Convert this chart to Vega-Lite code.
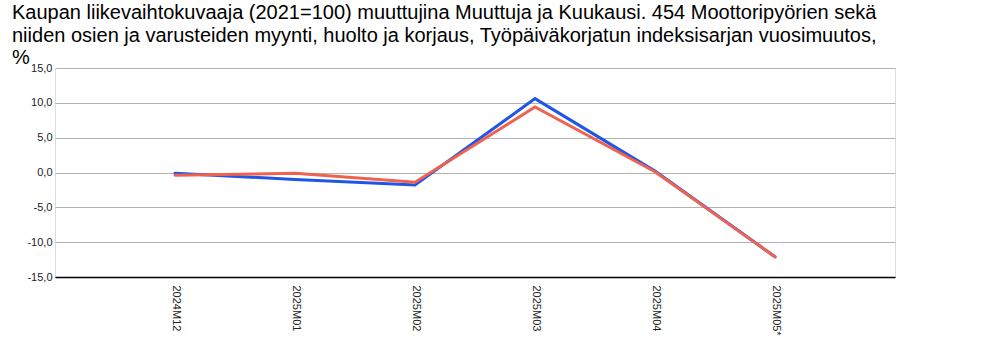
{
  "$schema": "https://vega.github.io/schema/vega-lite/v6.json",
  "width": 840,
  "height": 209,
  "autosize": {"type": "none"},
  "padding": {"left": 55, "top": 68, "right": 94, "bottom": 80},
  "background": "white",
  "title": {
    "text": [
      "Kaupan liikevaihtokuvaaja (2021=100) muuttujina Muuttuja ja Kuukausi. 454 Moottoripyörien sekä",
      "niiden osien ja varusteiden myynti, huolto ja korjaus, Työpäiväkorjatun indeksisarjan vuosimuutos,",
      "%"
    ],
    "anchor": "start",
    "frame": "group",
    "dx": -43,
    "dy": 6,
    "font": "Liberation Sans",
    "fontSize": 20,
    "fontWeight": "normal",
    "lineHeight": 22.5,
    "color": "#000000",
    "offset": 0
  },
  "data": {
    "values": [
      {"kuukausi": "2024M12", "sarja": "Työpäiväkorjattu", "arvo": -0.1},
      {"kuukausi": "2025M01", "sarja": "Työpäiväkorjattu", "arvo": -1.0},
      {"kuukausi": "2025M02", "sarja": "Työpäiväkorjattu", "arvo": -1.8},
      {"kuukausi": "2025M03", "sarja": "Työpäiväkorjattu", "arvo": 10.6},
      {"kuukausi": "2025M04", "sarja": "Työpäiväkorjattu", "arvo": 0.2},
      {"kuukausi": "2025M05*", "sarja": "Työpäiväkorjattu", "arvo": -12.1},
      {"kuukausi": "2024M12", "sarja": "Alkuperäinen", "arvo": -0.4},
      {"kuukausi": "2025M01", "sarja": "Alkuperäinen", "arvo": -0.1},
      {"kuukausi": "2025M02", "sarja": "Alkuperäinen", "arvo": -1.4},
      {"kuukausi": "2025M03", "sarja": "Alkuperäinen", "arvo": 9.4},
      {"kuukausi": "2025M04", "sarja": "Alkuperäinen", "arvo": 0.1},
      {"kuukausi": "2025M05*", "sarja": "Alkuperäinen", "arvo": -12.1}
    ]
  },
  "mark": {"type": "line", "strokeWidth": 3, "strokeCap": "round", "strokeJoin": "miter"},
  "encoding": {
    "x": {
      "field": "kuukausi",
      "type": "ordinal",
      "sort": null,
      "scale": {"type": "point", "padding": 1},
      "axis": {
        "title": null,
        "labelAngle": 90,
        "labelAlign": "left",
        "labelBaseline": "middle",
        "labelPadding": 8,
        "labelFont": "Liberation Sans",
        "labelFontSize": 11,
        "labelColor": "#222222",
        "ticks": false,
        "domain": true,
        "domainColor": "#000000",
        "domainWidth": 1.5,
        "grid": false
      }
    },
    "y": {
      "field": "arvo",
      "type": "quantitative",
      "scale": {"domain": [-15, 15], "nice": false, "zero": false},
      "axis": {
        "title": null,
        "values": [-15, -10, -5, 0, 5, 10, 15],
        "labelExpr": "replace(replace(format(datum.value, '.1f'), '.', ','), '\u2212', '-')",
        "labelFont": "Liberation Sans",
        "labelFontSize": 11,
        "labelColor": "#222222",
        "labelPadding": 3,
        "ticks": false,
        "domain": false,
        "grid": true,
        "gridColor": "#b3b3b3",
        "gridWidth": 1
      }
    },
    "color": {
      "field": "sarja",
      "type": "nominal",
      "sort": ["Työpäiväkorjattu", "Alkuperäinen"],
      "scale": {"domain": ["Työpäiväkorjattu", "Alkuperäinen"], "range": ["#1f56e6", "#ee6250"]},
      "legend": null
    },
    "order": {"field": "sarja", "sort": "descending"}
  }
}
